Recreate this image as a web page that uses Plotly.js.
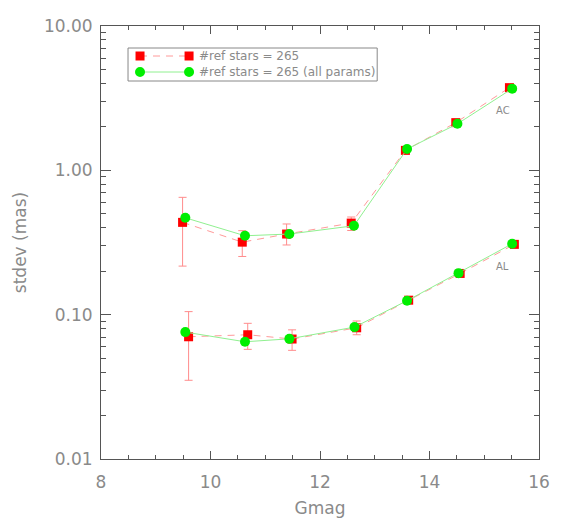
<!DOCTYPE html>
<html>
<head>
<meta charset="utf-8">
<script src="https://cdn.plot.ly/plotly-3.0.1.min.js"></script>
<style>html,body{margin:0;padding:0;background:#fff;}#chart{width:586px;height:522px;}</style>
</head>
<body>
<div id="chart"></div>
<script>
// AC (across-scan) series
const gmagRefAC   = [9.49, 10.58, 11.39, 12.57, 13.56, 14.48, 15.46];
const stdevRefAC  = [0.436, 0.318, 0.362, 0.431, 1.375, 2.14, 3.74];
const errUpRefAC  = [0.214, 0.064, 0.063, 0.044, 0.07, 0.10, 0.12];
const errLoRefAC  = [0.219, 0.065, 0.058, 0.048, 0.07, 0.10, 0.12];
const gmagAllAC   = [9.54, 10.63, 11.44, 12.62, 13.59, 14.51, 15.51];
const stdevAllAC  = [0.469, 0.352, 0.362, 0.413, 1.405, 2.10, 3.68];
// AL (along-scan) series
const gmagRefAL   = [9.60, 10.68, 11.49, 12.67, 13.62, 14.56, 15.55];
const stdevRefAL  = [0.0703, 0.0726, 0.0678, 0.0811, 0.126, 0.193, 0.307];
const errUpRefAL  = [0.0347, 0.0145, 0.0107, 0.0093, 0.006, 0.007, 0.008];
const errLoRefAL  = [0.0352, 0.0151, 0.0112, 0.0085, 0.006, 0.007, 0.008];
const gmagAllAL   = [9.54, 10.63, 11.44, 12.63, 13.59, 14.53, 15.51];
const stdevAllAL  = [0.0757, 0.0649, 0.068, 0.082, 0.125, 0.194, 0.310];

const yTickVals = [0.01, 0.1, 1, 10];
const yTickText = ['0.01', '0.10', '1.00', '10.00'];
const legendLabels = ['#ref stars = 265', '#ref stars = 265 (all params)'];
const curveLabels = ['AC', 'AL'];
const curveLabelPos = {AC: [15.35, 2.58], AL: [15.33, 0.214]};

const RED = '#ff0000', PINK = '#ff9a9a', GREEN = '#00ee00', LGREEN = '#90f090';
const TXT = '#8a8a8a', AX = '#555555';
const FONT = 'DejaVu Sans, sans-serif';

function refTrace(x, y, up, lo) {
  return {x, y, type: 'scatter', mode: 'lines+markers',
    line: {color: PINK, width: 1, dash: '7px,6px'},
    marker: {symbol: 'square', size: 9, color: RED},
    error_y: {type: 'data', symmetric: false, array: up, arrayminus: lo,
      color: '#ff8c8c', thickness: 1, width: 4},
    showlegend: false, hoverinfo: 'skip'};
}
function allTrace(x, y) {
  return {x, y, type: 'scatter', mode: 'lines+markers',
    line: {color: LGREEN, width: 1},
    marker: {symbol: 'circle', size: 10, color: GREEN},
    showlegend: false, hoverinfo: 'skip'};
}

const data = [
  refTrace(gmagRefAC, stdevRefAC, errUpRefAC, errLoRefAC),
  refTrace(gmagRefAL, stdevRefAL, errUpRefAL, errLoRefAL),
  allTrace(gmagAllAC, stdevAllAC),
  allTrace(gmagAllAL, stdevAllAL)
];

// legend box drawn as shapes in paper coordinates
const PW = 437.7, PH = 433, L = 101, T = 26;
const px = v => (v - L) / PW;
const py = v => (T + PH - v) / PH;
const shapes = [
  {type: 'rect', xref: 'paper', yref: 'paper', x0: px(128), x1: px(377), y0: py(81), y1: py(48),
   line: {color: '#888', width: 1}, fillcolor: 'rgba(0,0,0,0)'},
  {type: 'line', xref: 'paper', yref: 'paper', x0: px(140), x1: px(189), y0: py(56), y1: py(56),
   line: {color: PINK, width: 1, dash: '7px,6px'}},
  {type: 'line', xref: 'paper', yref: 'paper', x0: px(140), x1: px(189), y0: py(72), y1: py(72),
   line: {color: LGREEN, width: 1}}
];
[140, 189].forEach(c => {
  shapes.push({type: 'rect', xref: 'paper', yref: 'paper', x0: px(c - 4.5), x1: px(c + 4.5),
    y0: py(56 + 4.5), y1: py(56 - 4.5), line: {width: 0}, fillcolor: RED});
  shapes.push({type: 'circle', xref: 'paper', yref: 'paper', x0: px(c - 5), x1: px(c + 5),
    y0: py(72 + 5), y1: py(72 - 5), line: {width: 0}, fillcolor: GREEN});
});

const annotations = [
  {xref: 'paper', yref: 'paper', x: px(197), y: py(56), xanchor: 'left', yanchor: 'middle',
   text: legendLabels[0], showarrow: false, font: {family: FONT, size: 12, color: TXT}},
  {xref: 'paper', yref: 'paper', x: px(197), y: py(72), xanchor: 'left', yanchor: 'middle',
   text: legendLabels[1], showarrow: false, font: {family: FONT, size: 12, color: TXT}}
];
curveLabels.forEach(k => {
  annotations.push({x: curveLabelPos[k][0], y: Math.log10(curveLabelPos[k][1]), xref: 'x', yref: 'y',
    text: k, showarrow: false, font: {family: FONT, size: 10, color: TXT}});
});

const layout = {
  width: 586, height: 522,
  margin: {l: L, r: 586 - L - PW, t: T, b: 522 - T - PH},
  paper_bgcolor: '#fff', plot_bgcolor: '#fff',
  showlegend: false,
  font: {family: FONT, color: TXT},
  xaxis: {
    range: [8, 16], dtick: 2, tick0: 8, ticks: 'inside', ticklen: 8, tickcolor: AX,
    showline: true, linecolor: AX, linewidth: 1, mirror: 'ticks', showgrid: false, zeroline: false,
    tickfont: {family: FONT, size: 17, color: TXT}, ticklabelstandoff: 8,
    minor: {dtick: 0.5, ticks: 'inside', ticklen: 4, tickcolor: AX, showgrid: false},
    title: {text: 'Gmag', font: {family: FONT, size: 17, color: TXT}, standoff: 10}
  },
  yaxis: {
    type: 'log', range: [-2, 1], tickvals: yTickVals, ticktext: yTickText,
    ticks: 'inside', ticklen: 10, tickcolor: AX,
    showline: true, linecolor: AX, linewidth: 1, mirror: 'ticks', showgrid: false, zeroline: false,
    tickfont: {family: FONT, size: 17, color: TXT}, ticklabelstandoff: 4,
    minor: {dtick: 'D1', ticks: 'inside', ticklen: 5, tickcolor: AX, showgrid: false},
    title: {text: 'stdev (mas)', font: {family: FONT, size: 17, color: TXT}, standoff: 12}
  },
  shapes, annotations
};

Plotly.newPlot('chart', data, layout, {staticPlot: true, displayModeBar: false});
</script>
</body>
</html>
